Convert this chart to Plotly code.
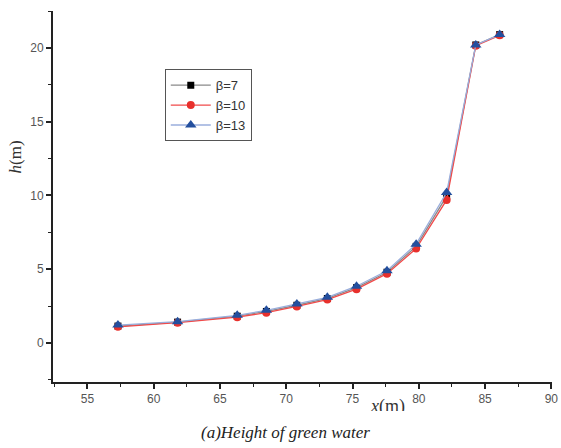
import plotly.graph_objects as go

x_vals = [57.3, 61.8, 66.3, 68.5, 70.8, 73.1, 75.3, 77.6, 79.8, 82.1, 84.3, 86.1]
beta7 = [1.15, 1.42, 1.82, 2.14, 2.56, 3.02, 3.75, 4.80, 6.55, 9.95, 20.2, 20.9]
beta10 = [1.10, 1.38, 1.75, 2.06, 2.48, 2.95, 3.65, 4.70, 6.40, 9.70, 20.15, 20.85]
beta13 = [1.22, 1.45, 1.88, 2.22, 2.65, 3.10, 3.85, 4.90, 6.70, 10.2, 20.2, 20.9]
series_names = ["β=7", "β=10", "β=13"]
x_ticks = [55, 60, 65, 70, 75, 80, 85, 90]
y_ticks = [0, 5, 10, 15, 20]

fig = go.Figure()
fig.add_trace(go.Scatter(x=x_vals, y=beta7, name=series_names[0], mode="lines+markers",
                         line=dict(color="#8a8a8a", width=1.3),
                         marker=dict(symbol="square", size=7, color="#000000")))
fig.add_trace(go.Scatter(x=x_vals, y=beta10, name=series_names[1], mode="lines+markers",
                         line=dict(color="#f04a4a", width=1.3),
                         marker=dict(symbol="circle", size=8, color="#e8302c")))
fig.add_trace(go.Scatter(x=x_vals, y=beta13, name=series_names[2], mode="lines+markers",
                         line=dict(color="#9aaedc", width=1.3),
                         marker=dict(symbol="triangle-up", size=10, color="#234f9e")))

axis_font = dict(family="Liberation Sans, Arial", size=12, color="#555555")
fig.update_layout(
    width=561, height=448,
    margin=dict(l=53, r=9, t=11, b=66),
    plot_bgcolor="white", paper_bgcolor="white",
    showlegend=True,
    legend=dict(x=0.224, y=0.843, xanchor="left", yanchor="top",
                bordercolor="#555555", borderwidth=1, bgcolor="white",
                font=dict(family="Liberation Sans, Arial", size=13, color="#333333"),
                tracegroupgap=0, itemwidth=40),
    xaxis=dict(range=[52.4, 90.05], tickvals=x_ticks, showgrid=False, zeroline=False,
               showline=True, linecolor="#222222", linewidth=2, automargin=False,
               ticks="outside", ticklen=5, tickwidth=1.5, tickcolor="#222222",
               minor=dict(ticks="outside", ticklen=3, tickwidth=1.2, tickcolor="#222222", dtick=2.5,
                          tick0=52.5),
               tickfont=axis_font),
    yaxis=dict(range=[-2.64, 22.5], tickvals=y_ticks, showgrid=False, zeroline=False,
               showline=True, linecolor="#222222", linewidth=2, automargin=False,
               ticks="outside", ticklen=5, tickwidth=1.5, tickcolor="#222222",
               minor=dict(ticks="outside", ticklen=3, tickwidth=1.2, tickcolor="#222222", dtick=2.5,
                          tick0=-2.5),
               tickfont=axis_font),
)

fig.add_annotation(text="<i>h</i>(m)", xref="paper", yref="paper", x=-0.075, y=0.607,
                   xanchor="center", yanchor="middle", textangle=-90, showarrow=False,
                   font=dict(family="Liberation Serif, Times New Roman", size=17, color="#333333"))
fig.add_annotation(text="<i>x</i>(m)", xref="paper", yref="paper", x=0.67, y=-0.031,
                   xanchor="center", yanchor="top", showarrow=False,
                   font=dict(family="Liberation Serif, Times New Roman", size=18, color="#333333"))
# white band that hides the lower part of the axis title, as in the reference
fig.add_annotation(text=" ", xref="paper", yref="paper", x=0.5, y=-0.078,
                   xanchor="center", yanchor="top", showarrow=False, width=561, height=16,
                   bgcolor="white", borderpad=0, borderwidth=0,
                   font=dict(size=4))
fig.add_annotation(text="<i>(a)Height of green water</i>", xref="paper", yref="paper", x=0.465, y=-0.135,
                   xanchor="center", yanchor="middle", showarrow=False,
                   font=dict(family="Liberation Serif, Times New Roman", size=17, color="#222222"))

fig.write_html("out.html", config={"displayModeBar": False},
               post_script="document.body.style.margin='0';")
